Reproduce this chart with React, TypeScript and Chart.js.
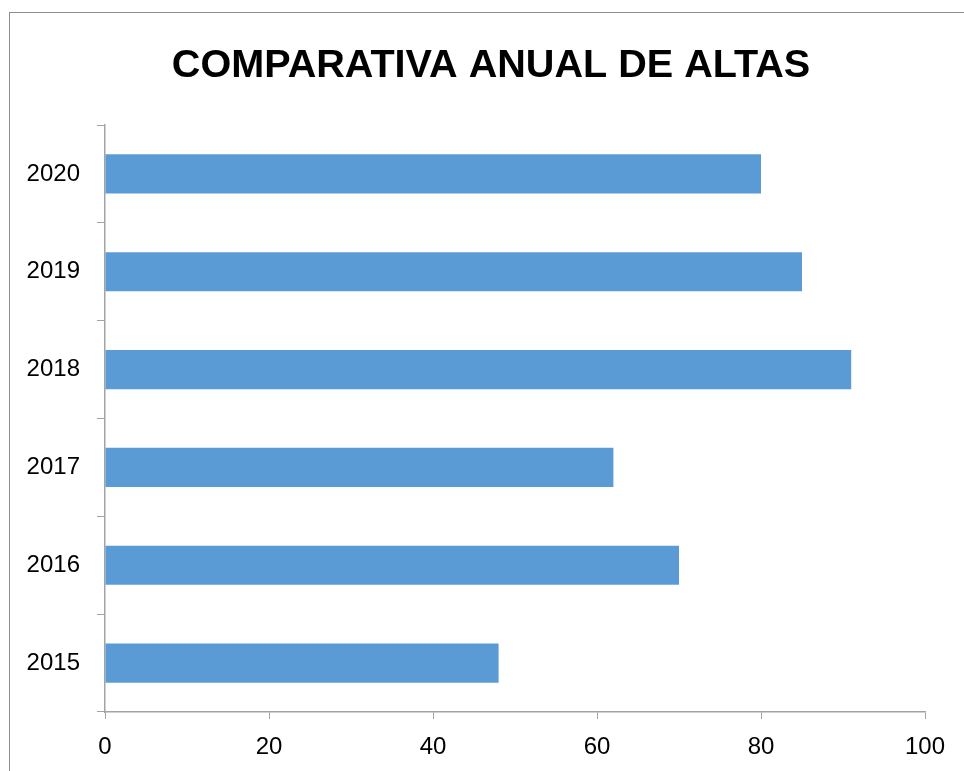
import React, { useEffect, useRef } from "react";
import { Chart, registerables } from "chart.js";

Chart.register(...registerables);

const years = ["2015", "2016", "2017", "2018", "2019", "2020"];
const altas = [48, 70, 62, 91, 85, 80];
const titleText = "COMPARATIVA ANUAL DE ALTAS";
const xMin = 0;
const xMax = 100;
const xStep = 20;

export default function App() {
  const ref = useRef<HTMLCanvasElement>(null);

  useEffect(() => {
    document.body.style.margin = "0";
    document.body.style.overflow = "hidden";
    const ctx = ref.current!;
    const axisColor = "#a3a3a3";
    const titleShift = {
      id: "titleShift",
      afterLayout(chart: any) {
        const tb = chart.titleBlock;
        if (tb) {
          tb.left = 47;
        }
      },
    };
    const chart = new Chart(ctx, {
      type: "bar",
      data: {
        labels: years,
        datasets: [
          {
            data: altas,
            backgroundColor: "#5b9bd5",
            borderWidth: 0,
            barPercentage: 0.4,
            categoryPercentage: 1,
          },
        ],
      },
      options: {
        indexAxis: "y",
        animation: false,
        responsive: false,
        maintainAspectRatio: false,
        layout: { padding: { left: 0, right: 49, top: 0, bottom: 0 } },
        plugins: {
          legend: { display: false },
          tooltip: { enabled: false },
          title: {
            display: true,
            text: titleText,
            color: "#000",
            font: { family: "'Liberation Sans', Arial, sans-serif", size: 39.6, weight: "bold", lineHeight: 1.2 },
            padding: { top: 29.3, bottom: 35.2 },
          },
        },
        scales: {
          x: {
            type: "linear",
            min: xMin,
            max: xMax,
            ticks: {
              stepSize: xStep,
              color: "#000",
              padding: 14,
              font: { family: "'Liberation Sans', Arial, sans-serif", size: 24 },
            },
            grid: {
              drawOnChartArea: false,
              drawTicks: true,
              tickLength: 7,
              color: axisColor,
            },
            border: { display: true, color: axisColor, width: 1.5 },
            afterFit: (scale: any) => {
              scale.height = 59;
            },
          },
          y: {
            type: "category",
            reverse: true,
            ticks: {
              color: "#000",
              padding: 17,
              font: { family: "'Liberation Sans', Arial, sans-serif", size: 24 },
            },
            grid: {
              drawOnChartArea: false,
              drawTicks: true,
              tickLength: 8,
              offset: true,
              color: axisColor,
            },
            border: { display: true, color: axisColor, width: 1.5 },
            afterFit: (scale: any) => {
              scale.width = 95;
            },
          },
        },
      },
      plugins: [titleShift],
    });
    return () => chart.destroy();
  }, []);

  return (
    <div
      style={{
        position: "fixed",
        left: 9,
        top: 12,
        width: 964,
        height: 759,
        borderLeft: "1px solid #8c8c8c",
        borderTop: "1px solid #8c8c8c",
        background: "#fff",
      }}
    >
      <canvas ref={ref} width={964} height={758} style={{ display: "block", width: 964, height: 758 }} />
    </div>
  );
}
